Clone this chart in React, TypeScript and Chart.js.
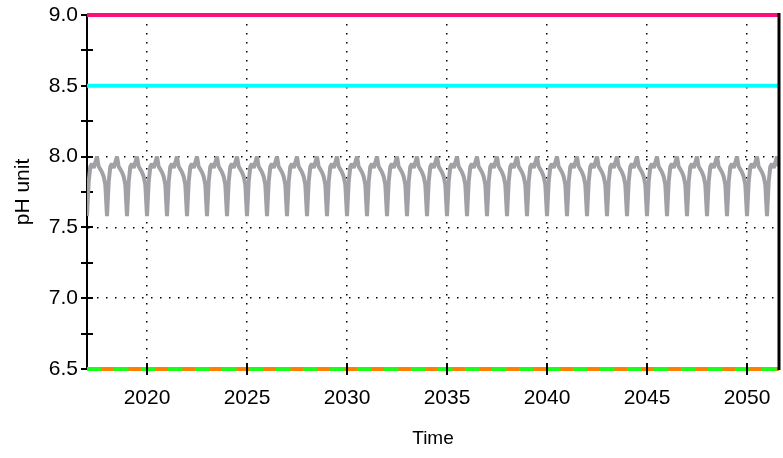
import React, { useEffect, useRef } from "react";
import { Chart, registerables } from "chart.js";

Chart.register(...registerables);

// ---- data ----
const xMin = 2017;
const xMax = 2051.6;
const xTicks = [2020, 2025, 2030, 2035, 2040, 2045, 2050];
const yTicks = [6.5, 7.0, 7.5, 8.0, 8.5, 9.0];
const yMinorTicks = [6.75, 7.25, 7.75, 8.25, 8.75];

const limitX = [2017, 2051.6];
const upperLimit = [9.0, 9.0];
const upperTarget = [8.5, 8.5];
const lowerLimitA = [6.5, 6.5];
const lowerLimitB = [6.5, 6.5];

const phStartYear = 2017;
// monthly pH values, one row per year (Jan..Dec)
const phMonthly = [
  [7.58, 7.82, 7.93, 7.95, 7.92, 7.96, 8.00, 7.93, 7.91, 7.89, 7.86, 7.80], // 2017
  [7.58, 7.82, 7.93, 7.95, 7.92, 7.96, 8.00, 7.93, 7.91, 7.89, 7.86, 7.80], // 2018
  [7.58, 7.82, 7.93, 7.95, 7.92, 7.96, 8.00, 7.93, 7.91, 7.89, 7.86, 7.80], // 2019
  [7.58, 7.82, 7.93, 7.95, 7.92, 7.96, 8.00, 7.93, 7.91, 7.89, 7.86, 7.80], // 2020
  [7.58, 7.82, 7.93, 7.95, 7.92, 7.96, 8.00, 7.93, 7.91, 7.89, 7.86, 7.80], // 2021
  [7.58, 7.82, 7.93, 7.95, 7.92, 7.96, 8.00, 7.93, 7.91, 7.89, 7.86, 7.80], // 2022
  [7.58, 7.82, 7.93, 7.95, 7.92, 7.96, 8.00, 7.93, 7.91, 7.89, 7.86, 7.80], // 2023
  [7.58, 7.82, 7.93, 7.95, 7.92, 7.96, 8.00, 7.93, 7.91, 7.89, 7.86, 7.80], // 2024
  [7.58, 7.82, 7.93, 7.95, 7.92, 7.96, 8.00, 7.93, 7.91, 7.89, 7.86, 7.80], // 2025
  [7.58, 7.82, 7.93, 7.95, 7.92, 7.96, 8.00, 7.93, 7.91, 7.89, 7.86, 7.80], // 2026
  [7.58, 7.82, 7.93, 7.95, 7.92, 7.96, 8.00, 7.93, 7.91, 7.89, 7.86, 7.80], // 2027
  [7.58, 7.82, 7.93, 7.95, 7.92, 7.96, 8.00, 7.93, 7.91, 7.89, 7.86, 7.80], // 2028
  [7.58, 7.82, 7.93, 7.95, 7.92, 7.96, 8.00, 7.93, 7.91, 7.89, 7.86, 7.80], // 2029
  [7.58, 7.82, 7.93, 7.95, 7.92, 7.96, 8.00, 7.93, 7.91, 7.89, 7.86, 7.80], // 2030
  [7.58, 7.82, 7.93, 7.95, 7.92, 7.96, 8.00, 7.93, 7.91, 7.89, 7.86, 7.80], // 2031
  [7.58, 7.82, 7.93, 7.95, 7.92, 7.96, 8.00, 7.93, 7.91, 7.89, 7.86, 7.80], // 2032
  [7.58, 7.82, 7.93, 7.95, 7.92, 7.96, 8.00, 7.93, 7.91, 7.89, 7.86, 7.80], // 2033
  [7.58, 7.82, 7.93, 7.95, 7.92, 7.96, 8.00, 7.93, 7.91, 7.89, 7.86, 7.80], // 2034
  [7.58, 7.82, 7.93, 7.95, 7.92, 7.96, 8.00, 7.93, 7.91, 7.89, 7.86, 7.80], // 2035
  [7.58, 7.82, 7.93, 7.95, 7.92, 7.96, 8.00, 7.93, 7.91, 7.89, 7.86, 7.80], // 2036
  [7.58, 7.82, 7.93, 7.95, 7.92, 7.96, 8.00, 7.93, 7.91, 7.89, 7.86, 7.80], // 2037
  [7.58, 7.82, 7.93, 7.95, 7.92, 7.96, 8.00, 7.93, 7.91, 7.89, 7.86, 7.80], // 2038
  [7.58, 7.82, 7.93, 7.95, 7.92, 7.96, 8.00, 7.93, 7.91, 7.89, 7.86, 7.80], // 2039
  [7.58, 7.82, 7.93, 7.95, 7.92, 7.96, 8.00, 7.93, 7.91, 7.89, 7.86, 7.80], // 2040
  [7.58, 7.82, 7.93, 7.95, 7.92, 7.96, 8.00, 7.93, 7.91, 7.89, 7.86, 7.80], // 2041
  [7.58, 7.82, 7.93, 7.95, 7.92, 7.96, 8.00, 7.93, 7.91, 7.89, 7.86, 7.80], // 2042
  [7.58, 7.82, 7.93, 7.95, 7.92, 7.96, 8.00, 7.93, 7.91, 7.89, 7.86, 7.80], // 2043
  [7.58, 7.82, 7.93, 7.95, 7.92, 7.96, 8.00, 7.93, 7.91, 7.89, 7.86, 7.80], // 2044
  [7.58, 7.82, 7.93, 7.95, 7.92, 7.96, 8.00, 7.93, 7.91, 7.89, 7.86, 7.80], // 2045
  [7.58, 7.82, 7.93, 7.95, 7.92, 7.96, 8.00, 7.93, 7.91, 7.89, 7.86, 7.80], // 2046
  [7.58, 7.82, 7.93, 7.95, 7.92, 7.96, 8.00, 7.93, 7.91, 7.89, 7.86, 7.80], // 2047
  [7.58, 7.82, 7.93, 7.95, 7.92, 7.96, 8.00, 7.93, 7.91, 7.89, 7.86, 7.80], // 2048
  [7.58, 7.82, 7.93, 7.95, 7.92, 7.96, 8.00, 7.93, 7.91, 7.89, 7.86, 7.80], // 2049
  [7.58, 7.82, 7.93, 7.95, 7.92, 7.96, 8.00, 7.93, 7.91, 7.89, 7.86, 7.80], // 2050
  [7.58, 7.82, 7.93, 7.95, 7.92, 7.96, 8.00, 7.93], // 2051
];

const FONT = "'Liberation Sans', Arial, Helvetica, sans-serif";

const toPoints = (xs: number[], ys: number[]) => ys.map((y, i) => ({ x: xs[i], y }));

const axisDecor = {
  id: "axisDecor",
  beforeDatasetsDraw(chart: any) {
    const { ctx, chartArea, scales } = chart;
    const y = scales.y;
    ctx.save();
    ctx.strokeStyle = "#000";
    ctx.lineWidth = 2;
    ctx.beginPath();
    for (const v of [...yTicks, ...yMinorTicks]) {
      const py = Math.round(y.getPixelForValue(v));
      ctx.moveTo(chartArea.left - 6, py);
      ctx.lineTo(chartArea.left + 6, py);
    }
    ctx.stroke();
    ctx.restore();
  },
  afterDatasetsDraw(chart: any) {
    const { ctx, chartArea, scales } = chart;
    const x = scales.x;
    ctx.save();
    ctx.strokeStyle = "#000";
    ctx.lineWidth = 2;
    ctx.beginPath();
    for (const v of xTicks) {
      const px = Math.round(x.getPixelForValue(v));
      ctx.moveTo(px, chartArea.bottom - 6);
      ctx.lineTo(px, chartArea.bottom + 6);
    }
    ctx.stroke();
    ctx.lineWidth = 3;
    ctx.beginPath();
    ctx.moveTo(chartArea.right, chartArea.top - 2);
    ctx.lineTo(chartArea.right, chartArea.bottom + 1);
    ctx.stroke();
    ctx.restore();
  },
};

const zeroPadding = (scale: any) => {
  scale.paddingLeft = 0;
  scale.paddingRight = 0;
  scale.paddingTop = 0;
  scale.paddingBottom = 0;
};

export default function App() {
  const canvasRef = useRef<HTMLCanvasElement | null>(null);

  useEffect(() => {
    document.body.style.margin = "0";
    const canvas = canvasRef.current;
    if (!canvas) return;

    const phPoints = phMonthly
      .flat()
      .map((v, i) => ({ x: phStartYear + i / 12, y: v }));

    const chart = new Chart(canvas, {
      type: "line",
      data: {
        datasets: [
          {
            label: "Upper limit",
            data: toPoints(limitX, upperLimit),
            borderColor: "#fa0f7d",
            borderWidth: 4,
            pointRadius: 0,
            clip: false as any,
            order: 1,
          },
          {
            label: "Upper target",
            data: toPoints(limitX, upperTarget),
            borderColor: "#00ffff",
            borderWidth: 4,
            pointRadius: 0,
            order: 2,
          },
          {
            label: "pH",
            data: phPoints,
            borderColor: "#a0a0a5",
            borderWidth: 4,
            pointRadius: 0,
            borderJoinStyle: "bevel",
            tension: 0,
            order: 3,
          },
          {
            label: "Lower limit A",
            data: toPoints(limitX, lowerLimitA),
            borderColor: "#19ff19",
            borderWidth: 4,
            borderDash: [14.5, 12.5],
            pointRadius: 0,
            clip: false as any,
            order: 4,
          },
          {
            label: "Lower limit B",
            data: toPoints(limitX, lowerLimitB),
            borderColor: "#ff8000",
            borderWidth: 4,
            pointRadius: 0,
            clip: false as any,
            order: 5,
          },
        ],
      },
      options: {
        animation: false,
        responsive: true,
        maintainAspectRatio: false,
        layout: { padding: { top: 15, right: 4, left: 0, bottom: 0 } },
        plugins: {
          legend: { display: false },
          tooltip: { enabled: false },
        },
        scales: {
          x: {
            type: "linear",
            min: xMin,
            max: xMax,
            afterBuildTicks: (scale: any) => {
              scale.ticks = xTicks.map((v) => ({ value: v }));
            },
            afterFit: (scale: any) => {
              scale.height = 89;
              zeroPadding(scale);
            },
            ticks: {
              callback: (v: any) => String(v),
              color: "#000",
              font: { family: FONT, size: 21 },
              padding: 17,
              maxRotation: 0,
            },
            grid: {
              color: "#000",
              lineWidth: 1.5,
              drawTicks: false,
            },
            border: { display: true, color: "#000", width: 2, dash: [1.5, 7.5] },
            title: {
              display: true,
              text: "Time",
              color: "#000",
              font: { family: FONT, size: 19 },
              padding: { top: 0, bottom: 8 },
            },
          },
          y: {
            type: "linear",
            min: 6.5,
            max: 9.0,
            afterBuildTicks: (scale: any) => {
              scale.ticks = yTicks.map((v) => ({ value: v }));
            },
            afterFit: (scale: any) => {
              scale.width = 87;
              zeroPadding(scale);
            },
            ticks: {
              callback: (v: any) => Number(v).toFixed(1),
              color: "#000",
              font: { family: FONT, size: 21 },
              padding: 9,
            },
            grid: {
              color: "#000",
              lineWidth: 1.5,
              drawTicks: false,
            },
            border: { display: true, color: "#000", width: 2, dash: [1.5, 7.5] },
            title: {
              display: true,
              text: "pH unit",
              color: "#000",
              font: { family: FONT, size: 21 },
              padding: { top: 11, bottom: 0 },
            },
          },
        },
      },
      plugins: [axisDecor],
    } as any);

    return () => chart.destroy();
  }, []);

  return (
    <div style={{ position: "absolute", left: 0, top: 0, width: 783, height: 458 }}>
      <canvas ref={canvasRef} />
    </div>
  );
}
